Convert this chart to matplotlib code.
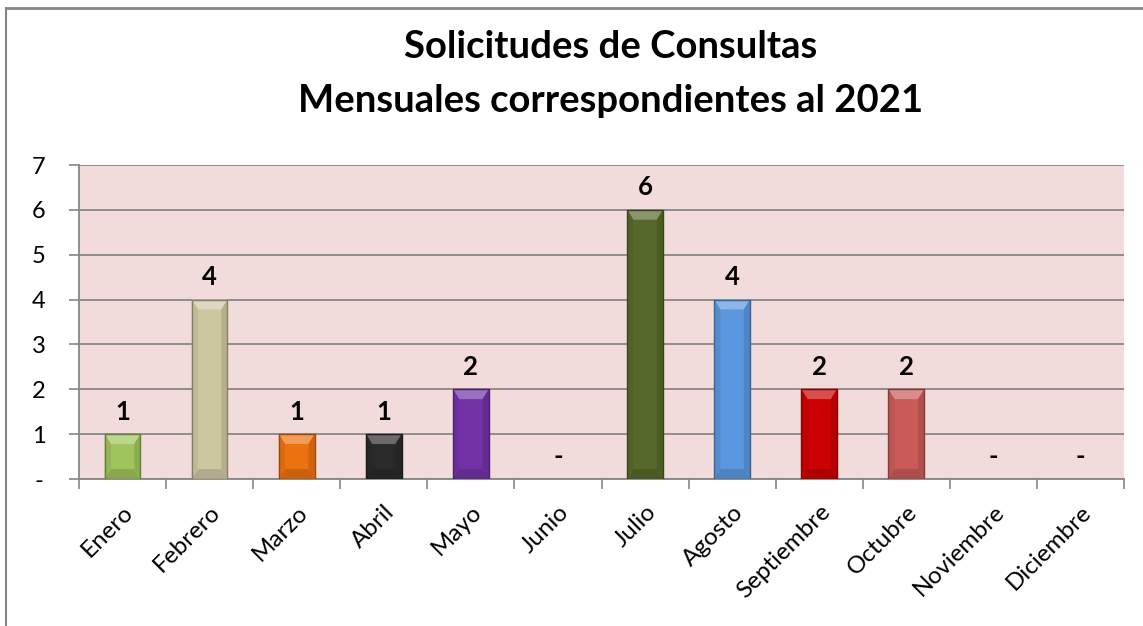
import matplotlib
matplotlib.use("Agg")
import matplotlib.pyplot as plt
from matplotlib.patches import Polygon, Rectangle
import numpy as np

months = ["Enero", "Febrero", "Marzo", "Abril", "Mayo", "Junio", "Julio",
          "Agosto", "Septiembre", "Octubre", "Noviembre", "Diciembre"]
values = [1, 4, 1, 1, 2, 0, 6, 4, 2, 2, 0, 0]
colors = ["#a0c45c", "#cdc7a0", "#ec710f", "#2a2a2a", "#7232a6", "#7f7f7f",
          "#56692a", "#5a97de", "#cc0000", "#c95a58", "#7f7f7f", "#7f7f7f"]
yticks = [0, 1, 2, 3, 4, 5, 6, 7]
ytick_labels = ["-", "1", "2", "3", "4", "5", "6", "7"]
title_lines = ["Solicitudes de Consultas", "Mensuales correspondientes al 2021"]

plt.rcParams['font.family'] = ['Lato', 'DejaVu Sans']

W, H = 1143, 626
fig = plt.figure(figsize=(W / 100, H / 100), dpi=100)
fig.patch.set_facecolor("white")

# outer chart border (left and top visible)
fig.add_artist(plt.Line2D([6 / W, 6 / W], [0, 1 - 8 / H], color="#868686", lw=1.5,
                          transform=fig.transFigure))
fig.add_artist(plt.Line2D([6 / W, 1], [1 - 8 / H, 1 - 8 / H], color="#868686", lw=2,
                          transform=fig.transFigure))

left, right, top, bottom = 79, 1124, 165, 479
ax = fig.add_axes([left / W, 1 - bottom / H, (right - left) / W, (bottom - top) / H])
ax.set_facecolor("#f2dcdb")

x = np.arange(len(months))
bw = 0.41


def darken(c, f=0.7):
    r, g, b = matplotlib.colors.to_rgb(c)
    return (r * f, g * f, b * f)


def lighten(c, f=0.35):
    r, g, b = matplotlib.colors.to_rgb(c)
    return (r + (1 - r) * f, g + (1 - g) * f, b + (1 - b) * f)


ax.bar(x, values, width=bw, color=colors, edgecolor="none", zorder=3)
# bevel faces
dx, dy = 0.07, 0.22
for xi, v, c in zip(x, values, colors):
    if v <= 0:
        continue
    l, r = xi - bw / 2, xi + bw / 2
    d = min(dy, v / 2)
    faces = [
        ([(l, v), (r, v), (r - dx, v - d), (l + dx, v - d)], lighten(c, 0.3)),
        ([(l, 0), (r, 0), (r - dx, d), (l + dx, d)], darken(c, 0.86)),
        ([(l, 0), (l + dx, d), (l + dx, v - d), (l, v)], darken(c, 0.93)),
        ([(r, 0), (r - dx, d), (r - dx, v - d), (r, v)], darken(c, 0.88)),
    ]
    for pts, fc in faces:
        ax.add_patch(Polygon(pts, closed=True, facecolor=fc, edgecolor="none", zorder=4))
    ax.add_patch(Rectangle((l, 0), bw, v, facecolor="none",
                           edgecolor=darken(c, 0.65), lw=1.0, zorder=5))

for xi, v in zip(x, values):
    ax.text(xi, v + 0.5, str(v) if v else "-", ha="center", va="center",
            fontsize=18.5, fontweight="bold", color="black", zorder=6)

ax.set_xlim(-0.5, len(months) - 0.5)
ax.set_ylim(0, 7)
ax.set_yticks(yticks)
ax.set_yticklabels(ytick_labels, fontsize=17)
ax.set_xticks(np.arange(len(months) + 1) - 0.5, minor=False)
ax.set_xticklabels([])
ax.set_xticks(x, minor=True)
ax.set_xticklabels(months, minor=True, rotation=45, ha="right", rotation_mode="anchor",
                   fontsize=17.5)
ax.tick_params(axis="x", which="minor", length=0, pad=16)
ax.tick_params(axis="x", which="major", length=7, width=1.2, color="#868686")
ax.tick_params(axis="y", length=7, width=1.2, color="#868686", pad=22)
for lbl in ax.get_yticklabels():
    lbl.set_horizontalalignment("center")
ax.grid(axis="y", color="#868686", lw=1.3, zorder=1)
ax.set_axisbelow(True)
for s in ["top", "right"]:
    ax.spines[s].set_visible(False)
ax.spines["left"].set_color("#868686")
ax.spines["bottom"].set_color("#868686")
ax.spines["left"].set_linewidth(1.3)
ax.spines["bottom"].set_linewidth(1.3)

fig.text(611 / W, 1 - 47 / H, title_lines[0], ha="center", va="center",
         fontsize=27.5, fontweight="bold")
fig.text(611 / W, 1 - 101 / H, title_lines[1], ha="center", va="center",
         fontsize=27.5, fontweight="bold")

fig.savefig("out.png", dpi=100, facecolor="white")
